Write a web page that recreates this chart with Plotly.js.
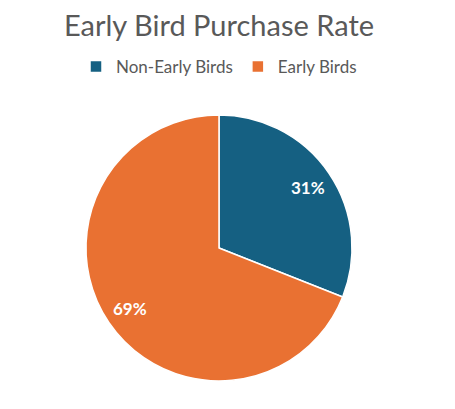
<!DOCTYPE html>
<html>
<head>
<meta charset="utf-8">
<script src="https://cdn.plot.ly/plotly-3.0.1.min.js"></script>
<style>
  html, body { margin: 0; padding: 0; background: #ffffff; }
  #chart { width: 455px; height: 409px; }
</style>
</head>
<body>
<div id="chart"></div>
<script>
// Share of buyers, early birds vs the rest.
const categories = ["Non-Early Birds", "Early Birds"];
const shares = [31, 69];
const sliceColors = ["#156082", "#E97132"];

const W = 455, H = 409;
const LABEL_R = 0.81;   // data labels sit near the outer edge, like Excel's
const domain = { x: [86 / W, 352 / W], y: [1 - 381 / H, 1 - 115 / H] };

// Pie geometry in paper px, the same way plotly derives it from the domain.
const cx = (domain.x[0] + domain.x[1]) / 2 * W;
const cy = (1 - (domain.y[0] + domain.y[1]) / 2) * H;
const rad = Math.min((domain.x[1] - domain.x[0]) * W, (domain.y[1] - domain.y[0]) * H) / 2;

const total = shares.reduce((a, b) => a + b, 0);
let cum = 0;
const annotations = shares.map(v => {
  const mid = (cum + v / 2) / total * 2 * Math.PI;
  cum += v;
  const px = cx + LABEL_R * rad * Math.sin(mid);
  const py = cy - LABEL_R * rad * Math.cos(mid);
  return {
    x: px / W, y: 1 - py / H, xref: "paper", yref: "paper",
    xanchor: "center", yanchor: "middle",
    text: Math.round(v / total * 100) + "%",
    showarrow: false,
    font: { family: "Lato, sans-serif", size: 17, color: "#ffffff", weight: "bold" },
  };
});

const data = [{
  type: "pie",
  labels: categories,
  values: shares,
  sort: false,
  direction: "clockwise",
  rotation: 0,
  marker: { colors: sliceColors, line: { color: "#ffffff", width: 1.5 } },
  textinfo: "none",
  hoverinfo: "label+percent",
  domain: domain,
}];

const layout = {
  width: W,
  height: H,
  margin: { l: 0, r: 0, t: 0, b: 0 },
  paper_bgcolor: "#ffffff",
  title: {
    text: "Early Bird Purchase Rate",
    font: { family: "Lato, sans-serif", size: 29, color: "#595959" },
    x: 219 / W,
    xanchor: "center",
    xref: "paper",
    y: 1 - 26 / H,
    yanchor: "middle",
    yref: "container",
  },
  legend: {
    orientation: "h",
    x: 219 / W,
    xanchor: "center",
    y: 1 - 67 / H,
    yanchor: "middle",
    font: { family: "Lato, sans-serif", size: 17, color: "#595959" },
    itemwidth: 30,
  },
  annotations: annotations,
  showlegend: true,
};

Plotly.newPlot("chart", data, layout, { displayModeBar: false, staticPlot: true });
</script>
</body>
</html>
